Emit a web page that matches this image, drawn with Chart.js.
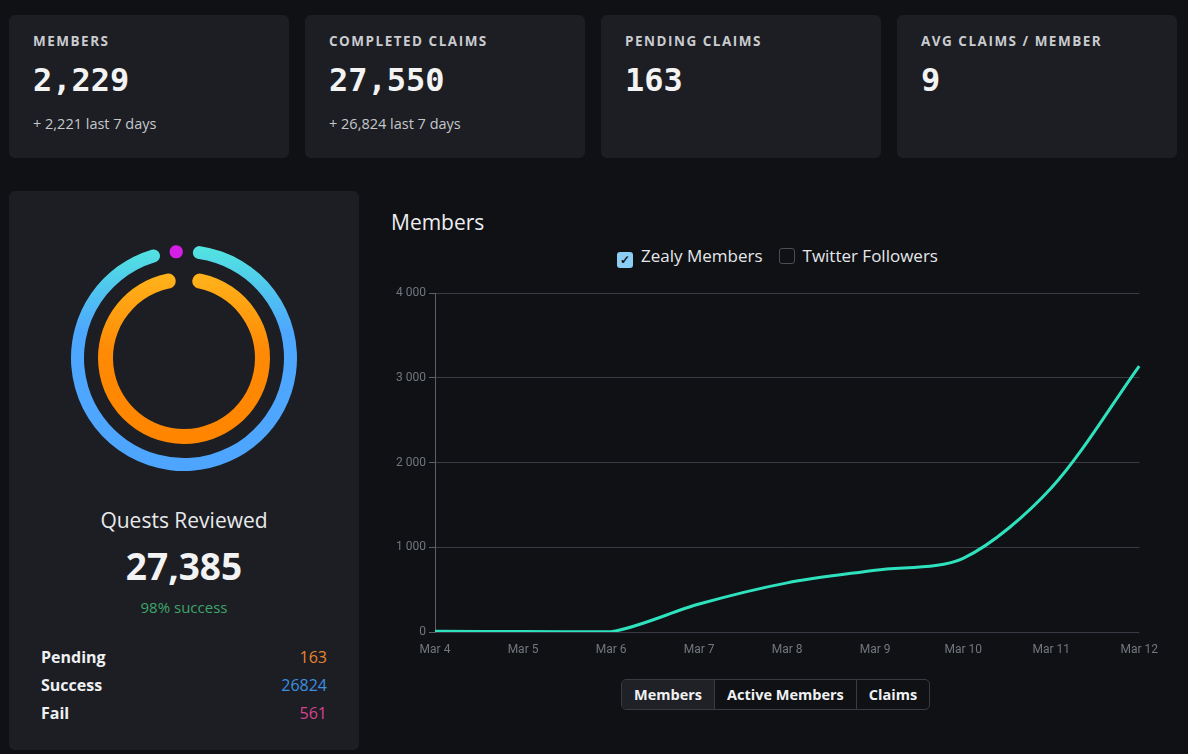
<!DOCTYPE html>
<html>
<head>
<meta charset="utf-8">
<script src="https://cdn.jsdelivr.net/npm/chart.js@4.4.1/dist/chart.umd.min.js"></script>
<style>
  body { margin: 0; width: 1188px; height: 754px; overflow: hidden; background: #0f1115; color: #e9eaec; font-family: "Open Sans", sans-serif; position: relative; }
  .card { position: absolute; top: 15px; width: 280px; height: 143px; background: #1c1e23; border-radius: 6px; }
  .card .lbl { position: absolute; left: 24px; top: 17px; font-size: 13.5px; line-height: 18px; font-weight: 700; letter-spacing: 1.5px; color: #c9cbcf; }
  .card .num { position: absolute; left: 24px; top: 45px; font-family: "DejaVu Sans Mono", monospace; font-size: 32px; line-height: 40px; font-weight: 700; color: #f3f3f4; }
  .card .sub { position: absolute; left: 24px; top: 99px; font-size: 14.5px; line-height: 20px; color: #c5c7cb; }
  .panel { position: absolute; left: 9px; top: 191px; width: 350px; height: 559px; background: #1c1e23; border-radius: 6px; }
  .ring { position: absolute; }
  .center { position: absolute; left: 0; width: 350px; text-align: center; }
  .row { position: absolute; left: 32px; width: 286px; height: 28px; line-height: 28px; font-size: 16px; font-weight: 700; color: #eef0f2; }
  .row span { float: right; font-weight: 400; }
  .title { position: absolute; left: 391px; top: 208px; font-size: 21px; line-height: 28px; color: #eceef0; }
  .legend { position: absolute; top: 246px; left: 617px; height: 20px; line-height: 20px; font-size: 17px; color: #e6e7ea; white-space: nowrap; }
  .box { display: inline-block; width: 16px; height: 16px; border-radius: 3px; vertical-align: -2px; margin-right: 8px; box-sizing: border-box; }
  .box.on { background: #8ccdf3; color: #10131a; font-size: 12px; line-height: 16px; text-align: center; font-weight: 700; }
  .box.off { border: 1.5px solid #4a4d55; margin-left: 16px; }
  #chartWrap { position: absolute; left: 375px; top: 283px; width: 794px; height: 379px; }
  .btns { position: absolute; left: 621px; top: 679px; height: 31px; border: 1px solid #383b42; border-radius: 5px; display: flex; overflow: hidden; box-sizing: border-box; }
  .btns div { padding: 0 12px; line-height: 29px; font-size: 14.5px; font-weight: 700; color: #f0f1f3; border-left: 1px solid #383b42; }
  .btns div:first-child { border-left: none; background: #1f2126; }
</style>
</head>
<body>

<div class="card" style="left:9px"><div class="lbl">MEMBERS</div><div class="num">2,229</div><div class="sub">+ 2,221 last 7 days</div></div>
<div class="card" style="left:305px"><div class="lbl">COMPLETED CLAIMS</div><div class="num">27,550</div><div class="sub">+ 26,824 last 7 days</div></div>
<div class="card" style="left:601px"><div class="lbl">PENDING CLAIMS</div><div class="num">163</div></div>
<div class="card" style="left:897px"><div class="lbl">AVG CLAIMS / MEMBER</div><div class="num">9</div></div>

<div class="panel">
  <div class="ring" style="left:62px;top:54px;width:226px;height:226px"><canvas id="outerRing"></canvas></div>
  <div class="ring" style="left:89px;top:81px;width:172px;height:172px"><canvas id="innerRing"></canvas></div>
  <div class="center" style="top:315px;font-size:21px;line-height:28px;color:#e8e9eb">Quests Reviewed</div>
  <div class="center" style="top:353px;font-size:37px;line-height:44px;font-weight:700;color:#f3f3f4">27,385</div>
  <div class="center" style="top:406px;font-size:15px;line-height:20px;color:#3ea56a">98% success</div>
  <div id="rows"></div>
</div>

<div class="title">Members</div>
<div class="legend"><span class="box on">&#10003;</span>Zealy Members<span class="box off"></span>Twitter Followers</div>
<div id="chartWrap"><canvas id="membersChart"></canvas></div>
<div class="btns"><div>Members</div><div>Active Members</div><div>Claims</div></div>

<script>
// line chart data
const days = ["Mar 4", "Mar 5", "Mar 6", "Mar 7", "Mar 8", "Mar 9", "Mar 10", "Mar 11", "Mar 12"];
const zealyMembers = [8, 6, 2, 330, 580, 730, 870, 1700, 3140];
const yTicks = [0, 1000, 2000, 3000, 4000];

// quest review numbers
const questStatus = ["Pending", "Success", "Fail"];
const questCounts = [163, 26824, 561];
const statusColors = ["#e8842e", "#3d8fe0", "#d6438f"];

// inner ring fill, %
const innerShare = 96.6;

// list under the rings
let rowsHtml = "";
questStatus.forEach((s, i) => {
  rowsHtml += `<div class="row" style="top:${452 + i * 28}px">${s}<span style="color:${statusColors[i]}">${questCounts[i]}</span></div>`;
});
document.getElementById("rows").innerHTML = rowsHtml;

function vGradient(c, stops) {
  const { ctx, chartArea } = c.chart;
  if (!chartArea) return stops[stops.length - 1][1];
  const g = ctx.createLinearGradient(0, chartArea.top, 0, chartArea.bottom);
  stops.forEach((s) => g.addColorStop(s[0], s[1]));
  return g;
}

const ringBase = {
  responsive: true,
  maintainAspectRatio: false,
  animation: false,
  events: [],
  plugins: { legend: { display: false }, tooltip: { enabled: false } },
};

// outer ring: success + fail with a small gap on both sides of the fail dot
const success = questCounts[1];
const fail = questCounts[2];
const gapShare = 0.015;
const ringTotal = (success + fail) / (1 - 2 * gapShare);
const gap = ringTotal * gapShare;

new Chart(document.getElementById("outerRing"), {
  type: "doughnut",
  data: {
    labels: ["Success", "", "Fail", ""],
    datasets: [{
      data: [success, gap, fail, gap],
      backgroundColor: (c) => {
        if (c.dataIndex === 0) return vGradient(c, [[0, "#52e6df"], [0.38, "#4ea7fe"], [1, "#4ea5ff"]]);
        if (c.dataIndex === 2) return "#d51fe6";
        return "rgba(0,0,0,0)";
      },
      borderWidth: 0,
      borderRadius: 10,
    }],
  },
  options: { ...ringBase, cutout: 100, rotation: 4.8 },
});

new Chart(document.getElementById("innerRing"), {
  type: "doughnut",
  data: {
    labels: ["Reviewed", ""],
    datasets: [{
      data: [innerShare, 100 - innerShare],
      backgroundColor: (c) => c.dataIndex === 0 ? vGradient(c, [[0, "#ffb41c"], [0.45, "#ff8a05"], [1, "#ff8500"]]) : "rgba(0,0,0,0)",
      borderWidth: 0,
      borderRadius: 10,
    }],
  },
  options: { ...ringBase, cutout: 71, rotation: 6.1 },
});

new Chart(document.getElementById("membersChart"), {
  type: "line",
  data: {
    labels: days,
    datasets: [{
      label: "Zealy Members",
      data: zealyMembers,
      borderColor: "#2ee2bd",
      borderWidth: 3,
      pointRadius: 0,
      tension: 0.3,
      fill: false,
    }],
  },
  options: {
    responsive: true,
    maintainAspectRatio: false,
    animation: false,
    events: [],
    layout: { padding: { top: 10, right: 0, left: 0, bottom: 0 } },
    plugins: { legend: { display: false }, tooltip: { enabled: false } },
    scales: {
      x: {
        offset: false,
        grid: { display: false, drawTicks: false },
        border: { display: false },
        ticks: { color: "#72767e", font: { family: "Roboto", size: 12 }, padding: 11, maxRotation: 0 },
        afterFit(s) { s.height = 30; },
      },
      y: {
        min: 0,
        max: 4000,
        afterBuildTicks(s) { s.ticks = yTicks.map((v) => ({ value: v })); },
        grid: { color: "#393c44", tickColor: "#5b5f67", tickLength: 6 },
        border: { color: "#5b5f67" },
        ticks: {
          color: "#72767e",
          font: { family: "Roboto", size: 12 },
          padding: 3,
          callback: (v) => String(v).replace(/\B(?=(\d{3})+(?!\d))/g, " "),
        },
        afterFit(s) { s.width = 60; },
      },
    },
  },
});
</script>
</body>
</html>
